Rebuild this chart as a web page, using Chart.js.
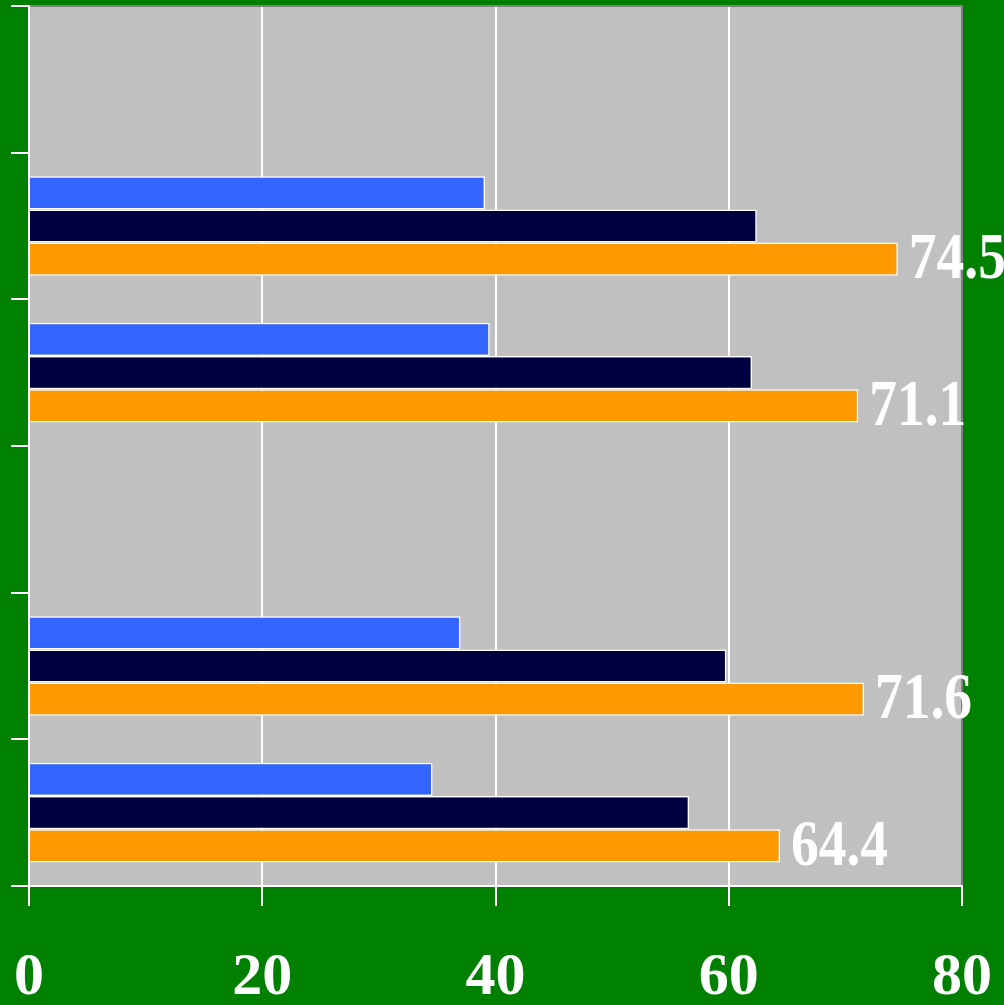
<!DOCTYPE html>
<html>
<head>
<meta charset="utf-8">
<script src="https://cdn.jsdelivr.net/npm/chart.js@4"></script>
<style>
  html, body { margin: 0; padding: 0; background: #008000; }
  canvas { display: block; }
</style>
</head>
<body>
<canvas id="chart" width="1004" height="1005"></canvas>
<script>
// six rows, top to bottom; rows 1 and 4 are empty
const categories = ['', '', '', '', '', ''];
const blueValues = [null, 39.1, 39.5, null, 37.0, 34.6];
const navyValues = [null, 62.4, 62.0, null, 59.8, 56.6];
const orangeValues = [null, 74.5, 71.1, null, 71.6, 64.4];
const xTicks = [0, 20, 40, 60, 80];

// gray plot background, then dark top/right frame over the grid
const plotBackground = {
    id: 'plotBackground',
    beforeDraw(chart) {
        const { ctx, chartArea: a } = chart;
        ctx.save();
        ctx.fillStyle = '#c0c0c0';
        ctx.fillRect(a.left, a.top, a.right - a.left, a.bottom - a.top);
        ctx.restore();
    },
    beforeDatasetsDraw(chart) {
        const { ctx, chartArea: a } = chart;
        ctx.save();
        ctx.strokeStyle = '#808080';
        ctx.lineWidth = 2;
        ctx.beginPath();
        ctx.moveTo(a.left + 1, a.top);
        ctx.lineTo(a.right, a.top);
        ctx.lineTo(a.right, a.bottom - 1);
        ctx.stroke();
        ctx.restore();
    }
};

// value labels on the orange bars only (narrow serif look)
const valueLabels = {
    id: 'valueLabels',
    afterDatasetsDraw(chart) {
        const { ctx } = chart;
        const meta = chart.getDatasetMeta(2);
        ctx.save();
        ctx.fillStyle = '#ffffff';
        ctx.font = 'bold 66px "Liberation Serif"';
        ctx.textAlign = 'left';
        ctx.textBaseline = 'middle';
        meta.data.forEach((bar, i) => {
            const v = orangeValues[i];
            if (v == null) return;
            ctx.save();
            ctx.translate(bar.x + 11, bar.y + 2);
            ctx.scale(0.84, 1);
            ctx.fillText(v.toFixed(1), 0, 0);
            ctx.restore();
        });
        ctx.restore();
    }
};

new Chart(document.getElementById('chart'), {
    type: 'bar',
    data: {
        labels: categories,
        datasets: [
            { data: blueValues, backgroundColor: '#3366ff' },
            { data: navyValues, backgroundColor: '#000040' },
            { data: orangeValues, backgroundColor: '#ff9900' }
        ]
    },
    options: {
        indexAxis: 'y',
        responsive: false,
        animation: false,
        categoryPercentage: 0.68,
        barPercentage: 1,
        borderColor: '#ffffff',
        borderWidth: 1.5,
        layout: { padding: { top: 6, right: 42, left: 0, bottom: 0 } },
        plugins: {
            legend: { display: false },
            tooltip: { enabled: false }
        },
        scales: {
            x: {
                min: 0,
                max: 80,
                afterBuildTicks: s => { s.ticks = xTicks.map(v => ({ value: v })); },
                afterFit: s => { s.height = 119; s.paddingLeft = 0; s.paddingRight = 0; },
                border: { color: '#ffffff', width: 2 },
                grid: { color: '#ffffff', lineWidth: 2, tickLength: 20 },
                ticks: {
                    color: '#ffffff',
                    padding: 36,
                    maxRotation: 0,
                    font: { family: '"Liberation Serif"', size: 60, weight: 'bold' }
                }
            },
            y: {
                afterFit: s => { s.width = 29; },
                border: { color: '#ffffff', width: 2 },
                grid: { color: '#ffffff', lineWidth: 2, drawOnChartArea: false, tickLength: 18 },
                ticks: { display: false }
            }
        }
    },
    plugins: [plotBackground, valueLabels]
});
</script>
</body>
</html>
